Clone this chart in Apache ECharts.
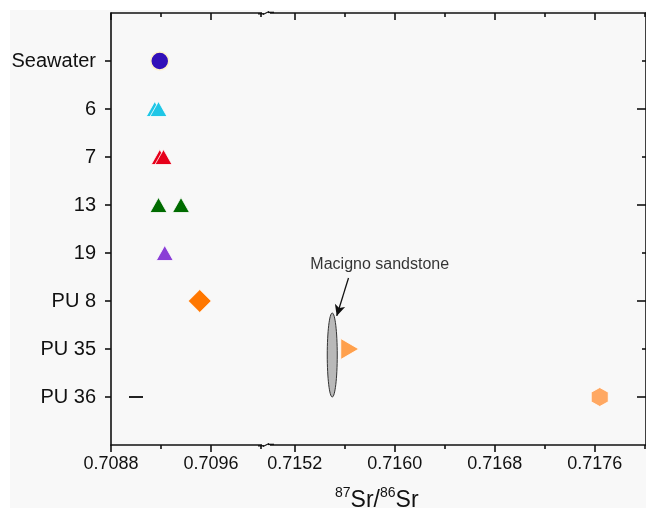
<!DOCTYPE html>
<html>
<head>
<meta charset="utf-8">
<script src="https://cdn.jsdelivr.net/npm/echarts@6/dist/echarts.min.js"></script>
<style>html,body{margin:0;padding:0;background:#fff;}#c{width:646px;height:508px;}</style>
</head>
<body>
<div id="c"></div>
<script>
// ---- data ----
const categories = ['Seawater', '6', '7', '13', '19', 'PU 8', 'PU 35', 'PU 36'];
const seawater = [0.70919];
const s6 = [0.70915, 0.70918];
const s7 = [0.70919, 0.70922];
const s13 = [0.70918, 0.70936];
const s19 = [0.70923];
const pu8 = [0.70951];
const pu35 = [0.71564];
const pu36 = [0.71764];
const dashMark = [0.70900];               // small dash seen near PU 36
const macignoSr = 0.71550;                 // Macigno sandstone field
const macignoHalfWidth = 0.00004;
const macignoRows = [6.25, 8.0];           // vertical extent in row units
const leftRange = [0.7088, 0.71004];
const rightRange = [0.71497, 0.71801];
const leftMajor = [0.7088, 0.7096];
const leftMinor = [0.7092, 0.7100];
const rightMajor = [0.7152, 0.7160, 0.7168, 0.7176];
const rightMinor = [0.7156, 0.7164, 0.7172, 0.7180];
const rowTicks = [1, 2, 3, 4, 5, 6, 7, 8];
const rowEven = [2, 4, 6, 8];
const rowOdd = [1, 3, 5, 7];
const annot = { text: 'Macigno sandstone', pos: [0.71588, 5.25], from: [0.71563, 5.52], to: [0.715536, 6.31] };

const row = name => categories.indexOf(name) + 1;
const pts = (arr, name) => arr.map(v => [v, row(name)]);

const FONT = 'Liberation Sans, Arial, sans-serif';
const BG = '#f8f8f8';
function xAx(grid, range, ticks, pos, inside, len, labels, line) {
  return {
    type: 'value', gridIndex: grid, position: pos, min: range[0], max: range[1],
    splitLine: { show: false },
    axisLine: { show: line, onZero: false, lineStyle: { color: '#111', width: 1.6 } },
    axisTick: { show: true, customValues: ticks, inside: inside, length: len, lineStyle: { color: '#111', width: 1.6 } },
    axisLabel: labels ? { show: true, customValues: ticks, formatter: v => v.toFixed(4), fontSize: 18, color: '#111', fontFamily: FONT, margin: 10 } : { show: false }
  };
}
const xAxes = [
  xAx(0, leftRange, leftMajor, 'bottom', false, 7, true, true),
  xAx(0, leftRange, leftMinor, 'bottom', false, 4, false, false),
  xAx(0, leftRange, leftMajor, 'top', true, 7, false, true),
  xAx(0, leftRange, leftMinor, 'top', true, 4, false, false),
  xAx(1, rightRange, rightMajor, 'bottom', false, 7, true, true),
  xAx(1, rightRange, rightMinor, 'bottom', false, 4, false, false),
  xAx(1, rightRange, rightMajor, 'top', true, 7, false, true),
  xAx(1, rightRange, rightMinor, 'top', true, 4, false, false)
];
function yAx(grid, pos, ticks, inside, len, labels, line) {
  return {
    type: 'value', gridIndex: grid, position: pos, min: 0, max: 9, inverse: true,
    splitLine: { show: false },
    axisLine: { show: line, onZero: false, lineStyle: { color: '#111', width: 1.6 } },
    axisTick: { show: true, customValues: ticks, inside: inside, length: len, lineStyle: { color: '#111', width: 1.6 } },
    axisLabel: labels ? { show: true, customValues: ticks, formatter: v => categories[v - 1] || '', fontSize: 20, color: '#111', fontFamily: FONT, margin: 15 } : { show: false }
  };
}
const yAxes = [
  yAx(0, 'left', rowTicks, false, 6, true, true),
  yAx(1, 'right', rowEven, true, 9, false, true),
  yAx(1, 'right', rowOdd, true, 4, false, false)
];

function sc(name, data, symbol, size, color, grid, border, bw) {
  return {
    name: name, type: 'scatter', data: data, symbol: symbol, symbolSize: size,
    xAxisIndex: grid === 0 ? 0 : 4, yAxisIndex: grid === 0 ? 0 : 1,
    itemStyle: { color: color, borderColor: border || '#ffffff', borderWidth: bw != null ? bw : 0.8, opacity: 1 },
    emphasis: { disabled: true }, z: 5
  };
}

function breakMark(y) {
  return [
    { type: 'rect', shape: { x: 262, y: y - 3, width: 8, height: 6 }, style: { fill: BG }, z: 20, silent: true },
    { type: 'line', shape: { x1: 258, y1: y + 0.8, x2: 264, y2: y + 0.8 }, style: { stroke: '#111', lineWidth: 1.4 }, z: 21, silent: true },
    { type: 'line', shape: { x1: 263, y1: y + 1.5, x2: 269, y2: y - 1.5 }, style: { stroke: '#111', lineWidth: 1.2 }, z: 21, silent: true },
    { type: 'line', shape: { x1: 268, y1: y - 0.6, x2: 274, y2: y - 0.6 }, style: { stroke: '#111', lineWidth: 1.4 }, z: 21, silent: true }
  ];
}

const option = {
  animation: false,
  backgroundColor: '#ffffff',
  graphic: [
    { type: 'rect', shape: { x: 10, y: 10, width: 640, height: 500 }, style: { fill: BG }, z: -10, silent: true }
  ].concat(breakMark(13), breakMark(445), [
    {
      type: 'text', left: 335, top: 486, z: 10,
      style: {
        text: '{s|87}{m|Sr/}{s|86}{m|Sr}',
        rich: {
          s: { fontSize: 14, fontFamily: FONT, fill: '#111', verticalAlign: 'top', lineHeight: 26, padding: [0, 0, 10, 0] },
          m: { fontSize: 23, fontFamily: FONT, fill: '#111', verticalAlign: 'bottom', lineHeight: 26 }
        }
      }
    }
  ]),
  grid: [
    { left: 111, top: 13, width: 155, bottom: 63 },
    { left: 266, top: 13, right: 0, bottom: 63 }
  ],
  xAxis: xAxes,
  yAxis: yAxes,
  series: [
    sc('Seawater', pts(seawater, 'Seawater'), 'circle', 18, '#3310b8', 0, '#fff1cc', 1.5),
    sc('6', pts(s6, '6'), 'triangle', [17, 15], '#1fc6e6', 0),
    sc('7', pts(s7, '7'), 'triangle', [17, 15], '#e6001a', 0),
    sc('13', pts(s13, '13'), 'triangle', [17, 15], '#006b00', 0),
    sc('19', pts(s19, '19'), 'triangle', [17, 15], '#8a3ed6', 0),
    sc('PU 8', pts(pu8, 'PU 8'), 'diamond', [23, 23], '#ff7700', 0),
    sc('dash', pts(dashMark, 'PU 36'), 'rect', [14, 2], '#222', 0, '#222', 0),
    sc('PU 35', pts(pu35, 'PU 35'), 'path://M0,0 L1,0.5 L0,1 Z', [18, 21], '#ffa04c', 1),
    sc('PU 36', pts(pu36, 'PU 36'), 'path://M0.5,0 L1,0.25 L1,0.75 L0.5,1 L0,0.75 L0,0.25 Z', [17, 19], '#ffa862', 1),
    {
      name: 'Macigno', type: 'custom', xAxisIndex: 4, yAxisIndex: 1, z: 4,
      data: [[macignoSr, macignoRows[0], macignoRows[1], macignoHalfWidth]],
      renderItem: function (params, api) {
        const a = api.coord([api.value(0), api.value(1)]);
        const b = api.coord([api.value(0), api.value(2)]);
        const r = api.coord([api.value(0) + api.value(3), api.value(1)]);
        return {
          type: 'ellipse',
          shape: { cx: a[0], cy: (a[1] + b[1]) / 2, rx: Math.abs(r[0] - a[0]), ry: Math.abs(b[1] - a[1]) / 2 },
          style: { fill: '#b9b9b9', stroke: '#333', lineWidth: 1 }
        };
      }
    },
    {
      name: 'annot', type: 'scatter', xAxisIndex: 4, yAxisIndex: 1, symbolSize: 0, z: 6,
      data: [annot.pos],
      label: { show: true, position: 'inside', formatter: annot.text, fontSize: 16, color: '#000', fontFamily: FONT },
      emphasis: { disabled: true },
      markLine: {
        silent: true, symbol: ['none', 'arrow'], symbolSize: [8, 11], animation: false,
        lineStyle: { color: '#111', width: 1.3, type: 'solid' }, label: { show: false },
        data: [[{ coord: annot.from }, { coord: annot.to }]]
      }
    }
  ]
};
const chart = echarts.init(document.getElementById('c'), null, { renderer: 'canvas' });
chart.setOption(option);
</script>
</body>
</html>
